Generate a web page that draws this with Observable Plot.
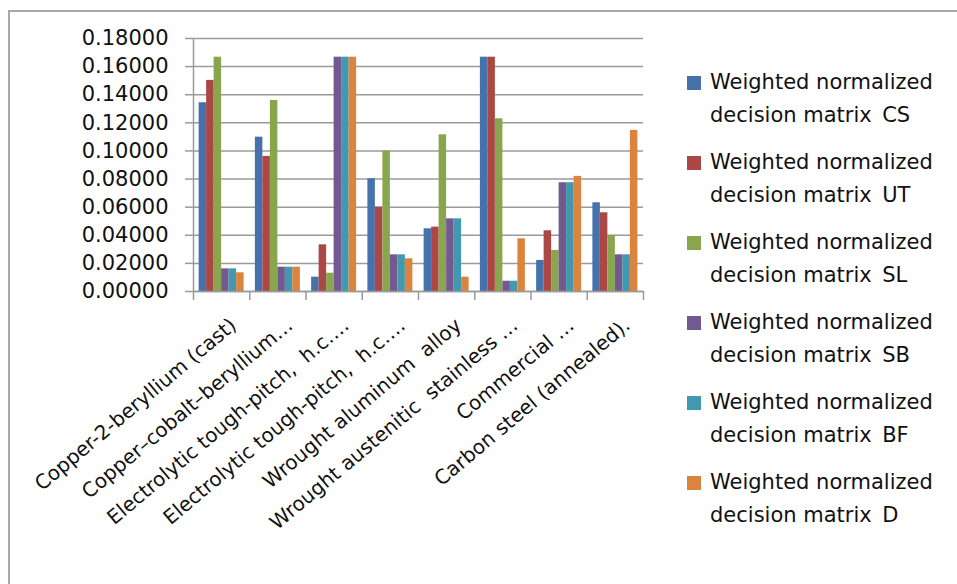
<!DOCTYPE html>
<html>
<head>
<meta charset="utf-8">
<script src="https://cdn.jsdelivr.net/npm/d3@7"></script>
<script src="https://cdn.jsdelivr.net/npm/@observablehq/plot@0.6"></script>
<style>
  html, body { margin: 0; padding: 0; background: #fff; }
  #wrap { position: relative; width: 957px; height: 584px; overflow: hidden; background: #fff; font-family: "DejaVu Sans", sans-serif; }
  #border { position: absolute; left: 8px; top: 10px; width: 1100px; height: 800px; border: 2px solid #a9a9a9; box-sizing: border-box; }
  #chart { position: absolute; left: 0; top: 0; }
  #legend { position: absolute; left: 687px; top: 66px; }
  .item { position: relative; height: 80px; }
  .swatch { position: absolute; left: 0; top: 10px; width: 14px; height: 14px; }
  .label { position: absolute; left: 23px; top: 0; font-size: 21px; line-height: 33px; color: #111; white-space: nowrap; }
</style>
</head>
<body>
<div id="wrap">
  <div id="border"></div>
  <div id="chart"></div>
  <div id="legend"></div>
</div>
<script>
// Materials compared
const materials = [
  "Copper-2-beryllium (cast)",
  "Copper\u2013cobalt\u2013beryllium\u2026",
  "Electrolytic tough-pitch,  h.c.\u2026",
  "Electrolytic tough-pitch,  h.c.\u2026",
  "Wrought aluminum  alloy",
  "Wrought austenitic  stainless \u2026",
  "Commercial \u2026",
  "Carbon steel (annealed)."
];

// Criteria (one series each)
const criteria = ["CS", "UT", "SL", "SB", "BF", "D"];
const seriesNames = criteria.map(c => `Weighted normalized decision matrix ${c}`);

// Weighted normalized values per criterion, one entry per material
const valuesCS = [0.1343, 0.1098, 0.0102, 0.0802, 0.0446, 0.1667, 0.0221, 0.0631];
const valuesUT = [0.1502, 0.0961, 0.0332, 0.0600, 0.0458, 0.1667, 0.0432, 0.0560];
const valuesSL = [0.1667, 0.1359, 0.0130, 0.0999, 0.1115, 0.1229, 0.0292, 0.0399];
const valuesSB = [0.0161, 0.0173, 0.1667, 0.0261, 0.0517, 0.0073, 0.0774, 0.0261];
const valuesBF = [0.0161, 0.0173, 0.1667, 0.0261, 0.0517, 0.0073, 0.0774, 0.0261];
const valuesD  = [0.0133, 0.0173, 0.1667, 0.0233, 0.0102, 0.0375, 0.0819, 0.1146];

const yTicks = [0, 0.02, 0.04, 0.06, 0.08, 0.10, 0.12, 0.14, 0.16, 0.18];
const colors = ["#4672AC", "#AB4744", "#89A54E", "#725990", "#4198AF", "#DB843D"];

const seriesValues = [valuesCS, valuesUT, valuesSL, valuesSB, valuesBF, valuesD];
const rows = [];
materials.forEach((m, i) => {
  seriesValues.forEach((vals, s) => {
    rows.push({index: i, s, series: seriesNames[s], value: vals[i]});
  });
});

// Each category slot: 1.5 bar-widths of gap split on both sides of six bars
const slotUnits = criteria.length + 1.5;
const barStart = d => d.index + (0.75 + d.s) / slotUnits;
const barEnd = d => d.index + (1.75 + d.s) / slotUnits;

const gridColor = "#9a9a9a";

const chart = Plot.plot({
  width: 957,
  height: 584,
  marginLeft: 193,
  marginRight: 314,
  marginTop: 38,
  marginBottom: 293,
  style: {fontFamily: "DejaVu Sans, sans-serif", background: "transparent", overflow: "visible"},
  x: {type: "linear", domain: [0, materials.length]},
  y: {domain: [0, 0.18]},
  color: {domain: seriesNames, range: colors},
  marks: [
    Plot.gridY(yTicks, {stroke: gridColor, strokeOpacity: 1, strokeWidth: 1.5}),
    Plot.axisY(yTicks, {
      tickSize: 8, tickPadding: 17, stroke: gridColor, strokeWidth: 1.5,
      tickFormat: d => d.toFixed(5), fontSize: 21, fill: "#111", label: null
    }),
    Plot.rectY(rows, {x1: barStart, x2: barEnd, y: "value", fill: "series"}),
    Plot.ruleX([0], {stroke: gridColor, strokeWidth: 1.5}),
    Plot.ruleY([0], {stroke: gridColor, strokeWidth: 1.5}),
    // category boundary ticks
    Plot.axisX(d3.range(0, materials.length + 1), {
      tickSize: 9, stroke: gridColor, strokeWidth: 1.5, tickFormat: () => "", label: null
    }),
    // category names
    Plot.axisX(d3.range(materials.length).map(i => i + 0.5), {
      tickSize: 0, tickPadding: 31, tickRotate: -40, dx: 12,
      tickFormat: d => materials[Math.floor(d)], fontSize: 20, fill: "#111", label: null
    })
  ]
});
document.getElementById("chart").appendChild(chart);

// Legend
const legend = document.getElementById("legend");
seriesNames.forEach((name, s) => {
  const item = document.createElement("div");
  item.className = "item";
  const sw = document.createElement("div");
  sw.className = "swatch";
  sw.style.background = colors[s];
  const lab = document.createElement("div");
  lab.className = "label";
  lab.innerHTML = `Weighted normalized<br>decision matrix\u2002${criteria[s]}`;
  item.appendChild(sw);
  item.appendChild(lab);
  legend.appendChild(item);
});
</script>
</body>
</html>
